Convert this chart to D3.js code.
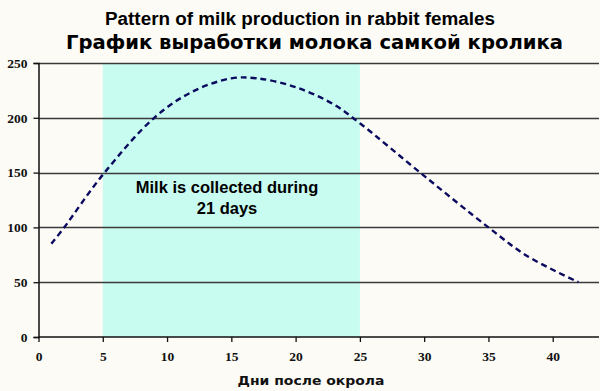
<!DOCTYPE html>
<html>
<head>
<meta charset="utf-8">
<script src="https://cdn.jsdelivr.net/npm/d3@7"></script>
<style>
  html, body { margin: 0; padding: 0; background: #fcfbf6; }
  svg { display: block; }
</style>
</head>
<body>
<svg id="chart" width="600" height="391"></svg>
<script>
const days = [1, 2, 5, 9, 12, 15, 17, 20, 23, 25, 30, 35, 38, 42];
const milk = [85, 100, 148, 200, 224, 236, 236, 228, 212, 195, 147, 100, 74, 50];
const xTicks = [0, 5, 10, 15, 20, 25, 30, 35, 40];
const yTicks = [0, 50, 100, 150, 200, 250];
const collectPeriod = [5, 25];

const titleEn = "Pattern of milk production in rabbit females";
const titleRu = "График выработки молока самкой кролика";
const xLabel = "Дни после окрола";
const noteLines = ["Milk is collected during", "21 days"];

const svg = d3.select("#chart");
const x = d3.scaleLinear().domain([0, 43.6]).range([38.5, 599]);
const y = d3.scaleLinear().domain([0, 250]).range([337, 63]);

// background
svg.append("rect").attr("width", 600).attr("height", 391).attr("fill", "#fcfbf6");

// collection period band
svg.append("rect")
  .attr("x", x(collectPeriod[0]))
  .attr("y", y(250))
  .attr("width", x(collectPeriod[1]) - x(collectPeriod[0]))
  .attr("height", y(0) - y(250))
  .attr("fill", "#c8fcf0");

// gridlines
svg.append("g")
  .selectAll("line")
  .data(yTicks.filter((d) => d > 0))
  .join("line")
  .attr("x1", x(0))
  .attr("x2", x(43.6))
  .attr("y1", (d) => Math.round(y(d)) + 0.5)
  .attr("y2", (d) => Math.round(y(d)) + 0.5)
  .attr("stroke", "#3a3a3a")
  .attr("stroke-width", 1.4);

// axes
const yAxis = svg.append("g")
  .attr("transform", `translate(${x(0)},0)`)
  .call(d3.axisLeft(y).tickValues(yTicks).tickSize(5).tickPadding(6));
const xAxis = svg.append("g")
  .attr("transform", `translate(0,${y(0)})`)
  .call(d3.axisBottom(x).tickValues(xTicks).tickSize(5).tickPadding(9));

[yAxis, xAxis].forEach((g) => {
  g.select(".domain").attr("stroke", "#111").attr("stroke-width", 1.5);
  g.selectAll(".tick line").attr("stroke", "#111").attr("stroke-width", 1.3);
  g.selectAll(".tick text")
    .attr("fill", "#111")
    .style("font-family", "'Liberation Serif', 'Times New Roman', serif")
    .style("font-weight", "bold")
    .style("font-size", "13.5px");
});
xAxis.select(".domain").attr("d", `M${x(0)},0H${x(43.6)}`);

// milk curve
const line = d3.line()
  .x((d, i) => x(days[i]))
  .y((d) => y(d))
  .curve(d3.curveCatmullRom.alpha(0.5));

svg.append("path")
  .datum(milk)
  .attr("d", line)
  .attr("fill", "none")
  .attr("stroke", "#0a0a5e")
  .attr("stroke-width", 2.4)
  .attr("stroke-dasharray", "6,4");

// note inside band
svg.append("g")
  .selectAll("text")
  .data(noteLines)
  .join("text")
  .attr("x", 227)
  .attr("y", (d, i) => 193 + i * 21)
  .attr("text-anchor", "middle")
  .style("font-family", "'Liberation Sans', Arial, sans-serif")
  .style("font-weight", "bold")
  .style("font-size", "16.5px")
  .attr("fill", "#000")
  .text((d) => d);

// titles
svg.append("text")
  .attr("x", 105)
  .attr("y", 25)
  .attr("textLength", 390)
  .attr("lengthAdjust", "spacingAndGlyphs")
  .style("font-family", "'Liberation Sans', Arial, sans-serif")
  .style("font-weight", "bold")
  .style("font-size", "18px")
  .attr("fill", "#000")
  .text(titleEn);

svg.append("text")
  .attr("x", 66)
  .attr("y", 49)
  .attr("textLength", 497)
  .attr("lengthAdjust", "spacingAndGlyphs")
  .style("font-family", "'DejaVu Sans', Verdana, sans-serif")
  .style("font-weight", "bold")
  .style("font-size", "19px")
  .attr("fill", "#000")
  .text(titleRu);

svg.append("text")
  .attr("x", 311)
  .attr("y", 385)
  .attr("textLength", 147)
  .attr("lengthAdjust", "spacingAndGlyphs")
  .attr("text-anchor", "middle")
  .style("font-family", "'DejaVu Sans', Verdana, sans-serif")
  .style("font-weight", "bold")
  .style("font-size", "13px")
  .attr("fill", "#111")
  .text(xLabel);
</script>
</body>
</html>
